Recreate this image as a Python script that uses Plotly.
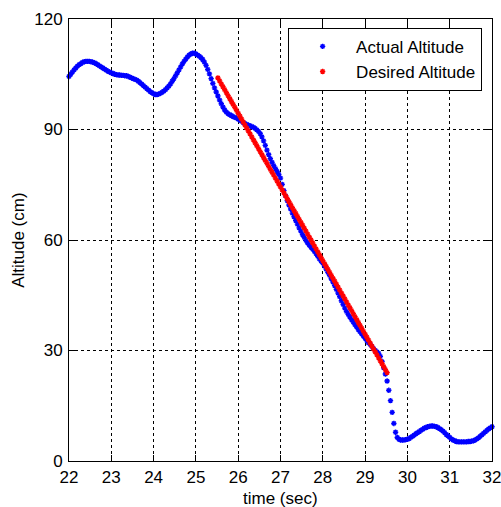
import numpy as np
import plotly.graph_objects as go

# Sample times (s): 25 samples per second
t_start, t_step = 22.0, 0.04

# Measured altitude (cm), one row per second of flight, plus the final sample at 32 s
actual_altitude = [
    104.4, 105.0, 105.6, 106.2, 106.7, 107.2, 107.6, 107.9, 108.2, 108.4, 108.5, 108.5, 108.5,
    108.4, 108.3, 108.1, 107.9, 107.6, 107.3, 107.0, 106.7, 106.4, 106.1, 105.8, 105.6,
    105.4, 105.2, 105.0, 104.9, 104.8, 104.8, 104.7, 104.7, 104.6, 104.6, 104.4, 104.2, 104.0,
    103.8, 103.6, 103.4, 103.1, 102.7, 102.3, 101.9, 101.5, 101.1, 100.7, 100.3, 100.0,
    99.7, 99.5, 99.5, 99.6, 99.8, 100.1, 100.4, 100.8, 101.3, 101.8, 102.4, 103.1, 103.8,
    104.6, 105.4, 106.2, 107.0, 107.8, 108.5, 109.1, 109.7, 110.2, 110.5, 110.7, 110.7,
    110.5, 110.2, 109.9, 109.5, 109.0, 108.3, 107.4, 106.3, 105.1, 103.8, 102.5, 101.3, 100.2,
    99.1, 98.0, 97.0, 96.1, 95.3, 94.7, 94.3, 94.0, 93.8, 93.5, 93.3, 93.1,
    92.8, 92.5, 92.2, 91.9, 91.6, 91.4, 91.2, 91.0, 90.8, 90.6, 90.3, 89.9, 89.5,
    88.9, 88.0, 86.9, 85.7, 84.4, 83.2, 82.1, 81.1, 80.2, 79.4, 78.6, 77.8,
    76.8, 75.1, 73.4, 72.0, 70.7, 69.5, 68.4, 67.3, 66.3, 65.3, 64.3, 63.3, 62.4,
    61.5, 60.7, 59.9, 59.2, 58.6, 58.0, 57.5, 56.9, 56.3, 55.6, 54.9, 54.3,
    53.7, 52.9, 52.1, 51.2, 50.4, 49.5, 48.6, 47.6, 46.6, 45.6, 44.6, 43.5, 42.5,
    41.5, 40.6, 39.8, 39.1, 38.4, 37.7, 37.0, 36.4, 35.7, 35.1, 34.5, 33.9,
    33.3, 32.7, 32.1, 31.7, 31.1, 30.5, 30.0, 29.6, 29.2, 28.4, 27.0, 25.3, 23.6,
    21.7, 19.2, 16.4, 13.2, 10.2, 7.8, 6.4, 5.9, 5.7, 5.7, 5.7, 5.8,
    5.9, 6.1, 6.4, 6.7, 7.0, 7.4, 7.7, 8.0, 8.3, 8.6, 8.9, 9.1, 9.3,
    9.4, 9.5, 9.5, 9.4, 9.3, 9.1, 8.8, 8.5, 8.1, 7.7, 7.2, 6.8,
    6.4, 6.0, 5.7, 5.5, 5.3, 5.2, 5.2, 5.2, 5.2, 5.2, 5.2, 5.3, 5.3,
    5.4, 5.5, 5.7, 6.0, 6.3, 6.7, 7.1, 7.5, 7.9, 8.3, 8.7, 9.0,
    9.3,
]

# Reference descent profile (cm), starting at 25.52 s
desired_start = 25.52
desired_altitude = [
    104.0, 103.2, 102.4, 101.6, 100.8, 100.0, 99.2, 98.4, 97.6, 96.8, 96.0, 95.2, 94.4,
    93.6, 92.8, 92.0, 91.2, 90.4, 89.6, 88.8, 88.0, 87.2, 86.4, 85.6, 84.8,
    84.0, 83.2, 82.4, 81.6, 80.8, 80.0, 79.2, 78.4, 77.6, 76.8, 76.0, 75.2, 74.4,
    73.6, 72.8, 72.0, 71.2, 70.4, 69.6, 68.8, 68.0, 67.2, 66.4, 65.6, 64.8,
    64.0, 63.2, 62.4, 61.6, 60.8, 60.0, 59.2, 58.4, 57.6, 56.8, 56.0, 55.2, 54.4,
    53.6, 52.8, 52.0, 51.2, 50.4, 49.6, 48.8, 48.0, 47.2, 46.4, 45.6, 44.8,
    44.0, 43.2, 42.4, 41.6, 40.8, 40.0, 39.2, 38.4, 37.6, 36.8, 36.0, 35.2, 34.4,
    33.6, 32.8, 32.0, 31.2, 30.4, 29.6, 28.8, 28.0, 27.2, 26.4, 25.6, 24.8,
    24.0,
]

x_ticks = [22, 23, 24, 25, 26, 27, 28, 29, 30, 31, 32]
y_ticks = [0, 30, 60, 90, 120]

t_actual = np.round(t_start + t_step * np.arange(len(actual_altitude)), 2)
t_desired = np.round(desired_start + t_step * np.arange(len(desired_altitude)), 2)

FONT = "Liberation Sans, Arial, sans-serif"
TITLE_FONT = dict(family=FONT, size=17, color="black")

fig = go.Figure()
fig.add_trace(go.Scatter(
    x=t_actual, y=actual_altitude, mode="markers", name="Actual Altitude",
    marker=dict(symbol="asterisk", size=4.5, color="#0000ff",
                line=dict(color="#0000ff", width=1.4)),
    cliponaxis=False,
))
fig.add_trace(go.Scatter(
    x=t_desired, y=desired_altitude, mode="markers", name="Desired Altitude",
    marker=dict(symbol="asterisk", size=4.5, color="#ff0000",
                line=dict(color="#ff0000", width=1.4)),
    cliponaxis=False,
))

axis_common = dict(
    showline=True, linecolor="black", linewidth=1, mirror="ticks",
    ticks="inside", ticklen=6, tickcolor="black", tickwidth=1,
    showgrid=True, gridcolor="black", gridwidth=1, griddash="dot",
    zeroline=False, automargin=False, ticklabeloverflow="allow",
    tickfont=dict(family=FONT, size=17, color="black"),
)

fig.update_xaxes(range=[22, 32], tickmode="array", tickvals=x_ticks,
                 ticklabelstandoff=1, **axis_common)
fig.update_yaxes(range=[0, 120], tickmode="array", tickvals=y_ticks,
                 ticklabelstandoff=2, **axis_common)

# Axis titles placed as paper-anchored annotations
fig.add_annotation(text="time (sec)", xref="paper", yref="paper",
                   x=0.5, y=-0.084, xanchor="center", yanchor="middle",
                   showarrow=False, font=TITLE_FONT)
fig.add_annotation(text="Altitude (cm)", xref="paper", yref="paper",
                   x=-0.121, y=0.5, xanchor="center", yanchor="middle",
                   textangle=-90, showarrow=False, font=TITLE_FONT)

fig.update_layout(
    width=501, height=507,
    margin=dict(l=69, r=9, t=19, b=46),
    paper_bgcolor="white", plot_bgcolor="white",
    font=dict(family=FONT, size=17, color="black"),
    showlegend=True,
    legend=dict(
        x=0.518, y=0.98, xanchor="left", yanchor="top",
        bgcolor="white", bordercolor="black", borderwidth=1,
        font=dict(family=FONT, size=17, color="black"),
        itemwidth=57,
    ),
)

fig.write_html("out.html")
